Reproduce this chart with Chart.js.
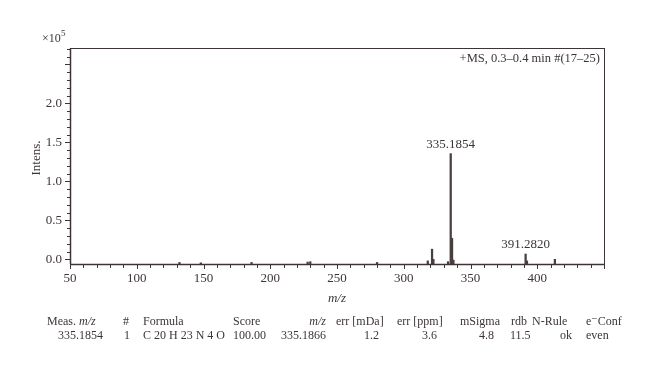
<!DOCTYPE html>
<html>
<head>
<meta charset="utf-8">
<script src="https://cdn.jsdelivr.net/npm/chart.js@4"></script>
<style>
  html, body { margin: 0; padding: 0; background: #fff; }
  #wrap { width: 660px; height: 369px; }
</style>
</head>
<body>
<div id="wrap"><canvas id="msChart" width="660" height="369"></canvas></div>
<script>
// peak list, m/z and intensity (x10^5); the trace baseline sits on the axis, a bit under 0.0
const peakMz = [132, 148, 186, 228, 230, 280, 318, 321.2, 322.2, 333.2, 335.1854, 336.19, 337.2, 391.282, 392.3, 413.2];
const peakInt = [-0.04, -0.045, -0.04, -0.035, -0.03, -0.04, -0.02, 0.13, 0.0, -0.03, 1.355, 0.27, -0.01, 0.068, -0.02, 0.0];

const labelMz = [335.1854, 391.282];
const labelInt = [1.355, 0.068];
const labelText = ["335.1854", "391.2820"];

const xTicks = [50, 100, 150, 200, 250, 300, 350, 400];
const yTicks = [0.0, 0.5, 1.0, 1.5, 2.0];

const tableHead = ["Meas. m/z", "#", "Formula", "Score", "m/z", "err [mDa]", "err [ppm]", "mSigma", "rdb", "N-Rule", "e\u207BConf"];
const tableRow = ["335.1854", "1", "C 20 H 23 N 4 O", "100.00", "335.1866", "1.2", "3.6", "4.8", "11.5", "ok", "even"];

const X_MIN = 50, X_MAX = 450, Y_MIN = -0.06, Y_MAX = 2.71;
const ink = "#3d3535";
const serif = "'Liberation Serif', 'DejaVu Serif', serif";

// table columns: header anchor / align, value anchor / align
const headX = [47, 126, 143, 233, 326, 336, 397, 460, 511, 532, 586];
const headAlign = ["left", "center", "left", "left", "right", "left", "left", "left", "left", "left", "left"];
const rowX = [103, 127, 143, 233, 326, 379, 437, 494, 510, 572, 586];
const rowAlign = ["right", "center", "left", "left", "right", "right", "right", "right", "left", "right", "left"];

const decor = {
  id: "decor",
  afterDraw(chart) {
    const c = chart.ctx;
    const a = chart.chartArea;
    const xs = chart.scales.x, ys = chart.scales.y;
    c.save();
    c.strokeStyle = ink;
    c.fillStyle = ink;
    c.lineWidth = 1;
    // frame
    c.strokeRect(a.left + 0.5, a.top + 0.5, a.right - a.left, a.bottom - a.top);
    c.lineWidth = 1.5;
    c.beginPath();
    c.moveTo(a.left, a.bottom + 0.5); c.lineTo(a.right, a.bottom + 0.5);
    c.moveTo(a.left + 0.5, a.top); c.lineTo(a.left + 0.5, a.bottom);
    c.stroke();
    c.lineWidth = 1;
    // x ticks
    c.beginPath();
    for (let v = X_MIN; v <= X_MAX; v += 10) {
      const px = Math.round(xs.getPixelForValue(v)) + 0.5;
      c.moveTo(px, a.bottom); c.lineTo(px, a.bottom + (v % 50 === 0 ? 5 : 4));
    }
    // y ticks
    for (let i = 0; i <= 27; i++) {
      const v = i / 10;
      const py = Math.round(ys.getPixelForValue(v)) + 0.5;
      c.moveTo(a.left, py); c.lineTo(a.left - (i % 5 === 0 ? 5 : 3), py);
    }
    c.stroke();
    // tick labels
    c.font = "13px " + serif;
    c.textAlign = "center"; c.textBaseline = "top";
    xTicks.forEach(v => c.fillText(String(v), xs.getPixelForValue(v), a.bottom + 8));
    c.textAlign = "right"; c.textBaseline = "middle";
    yTicks.forEach(v => c.fillText(v.toFixed(1), a.left - 8, ys.getPixelForValue(v)));
    // multiplier
    c.textAlign = "left"; c.textBaseline = "alphabetic";
    c.font = "12px " + serif;
    c.fillText("\u00D710", 42, 42);
    c.font = "9px " + serif;
    c.fillText("5", 61, 36);
    // axis titles
    c.font = "italic 13px " + serif;
    c.textAlign = "center";
    c.fillText("m/z", (a.left + a.right) / 2, 302);
    c.save();
    c.translate(40, 158);
    c.rotate(-Math.PI / 2);
    c.font = "13px " + serif;
    c.fillText("Intens.", 0, 0);
    c.restore();
    // scan info
    c.font = "12.5px " + serif;
    c.textAlign = "right";
    c.fillText("+MS, 0.3\u20130.4 min #(17\u201325)", a.right - 4, a.top + 14);
    // peak labels
    c.font = "13px " + serif;
    c.textAlign = "center";
    labelMz.forEach((m, i) => {
      c.fillText(labelText[i], xs.getPixelForValue(m), ys.getPixelForValue(labelInt[i]) - 6);
    });
    // result table
    const f = "12px " + serif, fi = "italic 12px " + serif;
    c.font = f;
    tableHead.forEach((t, i) => {
      c.textAlign = headAlign[i];
      if (t === "Meas. m/z") {
        c.fillText("Meas. ", headX[i], 325);
        const w = c.measureText("Meas. ").width;
        c.font = fi;
        c.fillText("m/z", headX[i] + w, 325);
        c.font = f;
      } else if (t === "m/z") {
        c.font = fi;
        c.fillText(t, headX[i], 325);
        c.font = f;
      } else {
        c.fillText(t, headX[i], 325);
      }
    });
    tableRow.forEach((t, i) => {
      c.textAlign = rowAlign[i];
      c.fillText(t, rowX[i], 339);
    });
    c.restore();
  }
};

new Chart(document.getElementById("msChart"), {
  type: "bar",
  data: {
    datasets: [{
      data: peakMz.map((m, i) => ({ x: m, y: peakInt[i] })),
      backgroundColor: "#4a3f3f",
      barThickness: 1.6,
      base: Y_MIN,
    }],
  },
  options: {
    responsive: false,
    animation: false,
    layout: { padding: { left: 0, right: 56, top: 48, bottom: 60 } },
    plugins: { legend: { display: false }, tooltip: { enabled: false } },
    scales: {
      x: {
        type: "linear",
        offset: false,
        min: X_MIN,
        max: X_MAX,
        grid: { display: false, offset: false },
        border: { display: false },
        ticks: { display: false },
        afterFit: (s) => { s.height = 45; },
      },
      y: {
        min: Y_MIN,
        max: Y_MAX,
        grid: { display: false },
        border: { display: false },
        ticks: { display: false },
        afterFit: (s) => { s.width = 70; },
      },
    },
  },
  plugins: [decor],
});
</script>
</body>
</html>
